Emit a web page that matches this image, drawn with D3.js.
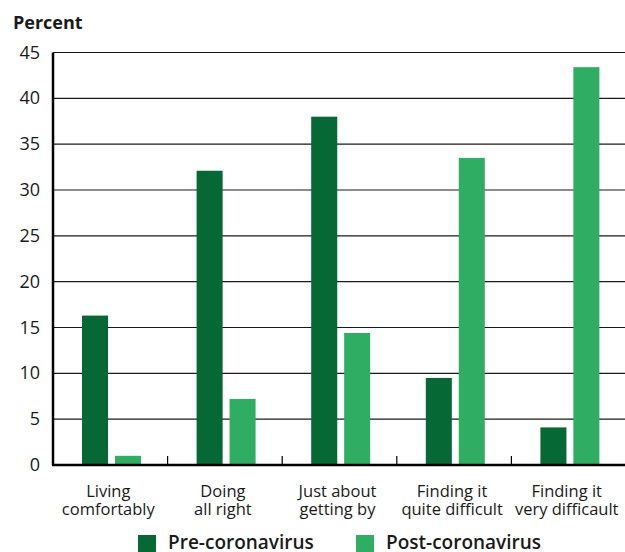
<!DOCTYPE html>
<html>
<head>
<meta charset="utf-8">
<script src="https://cdn.jsdelivr.net/npm/d3@7"></script>
<style>
  body { margin: 0; background: #fff; }
  text { font-family: "Open Sans", "Noto Sans", sans-serif; fill: #1a1a1a; }
</style>
</head>
<body>
<div id="chart"></div>
<script>
var categories = [["Living", "comfortably"], ["Doing", "all right"], ["Just about", "getting by"], ["Finding it", "quite difficult"], ["Finding it", "very difficault"]];
var series = ["Pre-coronavirus", "Post-coronavirus"];
var preValues = [16.3, 32.1, 38, 9.5, 4.1];
var postValues = [1, 7.2, 14.4, 33.5, 43.4];
var yTicks = [0, 5, 10, 15, 20, 25, 30, 35, 40, 45];
var colors = ["#066835", "#2fad63"];

var width = 625;
var height = 552;
var plotLeft = 53, plotRight = 626, plotTop = 52.5, plotBottom = 465;

var svg = d3.select("#chart").
append("svg").
attr("width", width).
attr("height", height);

var keys = categories.map(function (d, i) {return i;});

var x0 = d3.scaleBand().domain(keys).range([plotLeft, plotRight]);
var x1 = d3.scaleBand().domain(series).range([29, 88]).paddingInner(0.21);
var y = d3.scaleLinear().domain([0, 45]).range([plotBottom, plotTop]);

// gridlines
svg.selectAll(".grid").
data(yTicks.slice(1)).
enter().
append("line").
attr("x1", plotLeft).
attr("x2", width).
attr("y1", function (d) {return y(d);}).
attr("y2", function (d) {return y(d);}).
attr("stroke", "#1a1a1a").
attr("stroke-width", 1.2);

// y tick labels
svg.selectAll(".ylab").
data(yTicks).
enter().
append("text").
attr("x", 40).
attr("y", function (d) {return y(d) + 6;}).
attr("text-anchor", "end").
attr("font-size", 18).
text(function (d) {return d;});

svg.append("text").
attr("x", 13).
attr("y", 29).
attr("font-size", 18).
attr("font-weight", "bold").
text("Percent");

// bars
var data = keys.map(function (i) {return [preValues[i], postValues[i]];});

var groups = svg.selectAll(".cat").
data(data).
enter().
append("g").
attr("transform", function (d, i) {return "translate(" + x0(i) + ",0)";});

groups.selectAll("rect").
data(function (d) {return d.map(function (v, j) {return {s: series[j], v: v, c: colors[j]};});}).
enter().
append("rect").
attr("x", function (d) {return x1(d.s);}).
attr("width", x1.bandwidth()).
attr("y", function (d) {return y(d.v);}).
attr("height", function (d) {return y(0) - y(d.v);}).
attr("fill", function (d) {return d.c;});

// x axis with ticks between categories
svg.selectAll(".xtick").
data(keys.slice(1)).
enter().
append("line").
attr("x1", function (d) {return x0(d);}).
attr("x2", function (d) {return x0(d);}).
attr("y1", plotBottom - 9).
attr("y2", plotBottom).
attr("stroke", "#000").
attr("stroke-width", 1.2);

svg.append("line").
attr("x1", plotLeft - 1).
attr("x2", width).
attr("y1", plotBottom).
attr("y2", plotBottom).
attr("stroke", "#000").
attr("stroke-width", 2.5);

svg.append("line").
attr("x1", plotLeft).
attr("x2", plotLeft).
attr("y1", plotTop).
attr("y2", plotBottom).
attr("stroke", "#000").
attr("stroke-width", 2.5);

// category labels
function labelX(d, i) {return x0(i) + x0.bandwidth() / 2 - 2;}

var labels = svg.selectAll(".xlab").
data(categories).
enter().
append("text").
attr("text-anchor", "middle").
attr("font-size", 16.5);

labels.append("tspan").
attr("y", 497).
attr("x", labelX).
text(function (d) {return d[0];});

labels.append("tspan").
attr("y", 515).
attr("x", labelX).
text(function (d) {return d[1];});

// legend
var legendX = [138, 356];
series.forEach(function (s, i) {
  svg.append("rect").
  attr("x", legendX[i]).
  attr("y", 535).
  attr("width", 18).
  attr("height", 18).
  attr("fill", colors[i]);

  svg.append("text").
  attr("x", legendX[i] + 30).
  attr("y", 549).
  attr("font-size", 19).
  attr("font-weight", "600").
  text(s);
});
</script>
</body>
</html>
